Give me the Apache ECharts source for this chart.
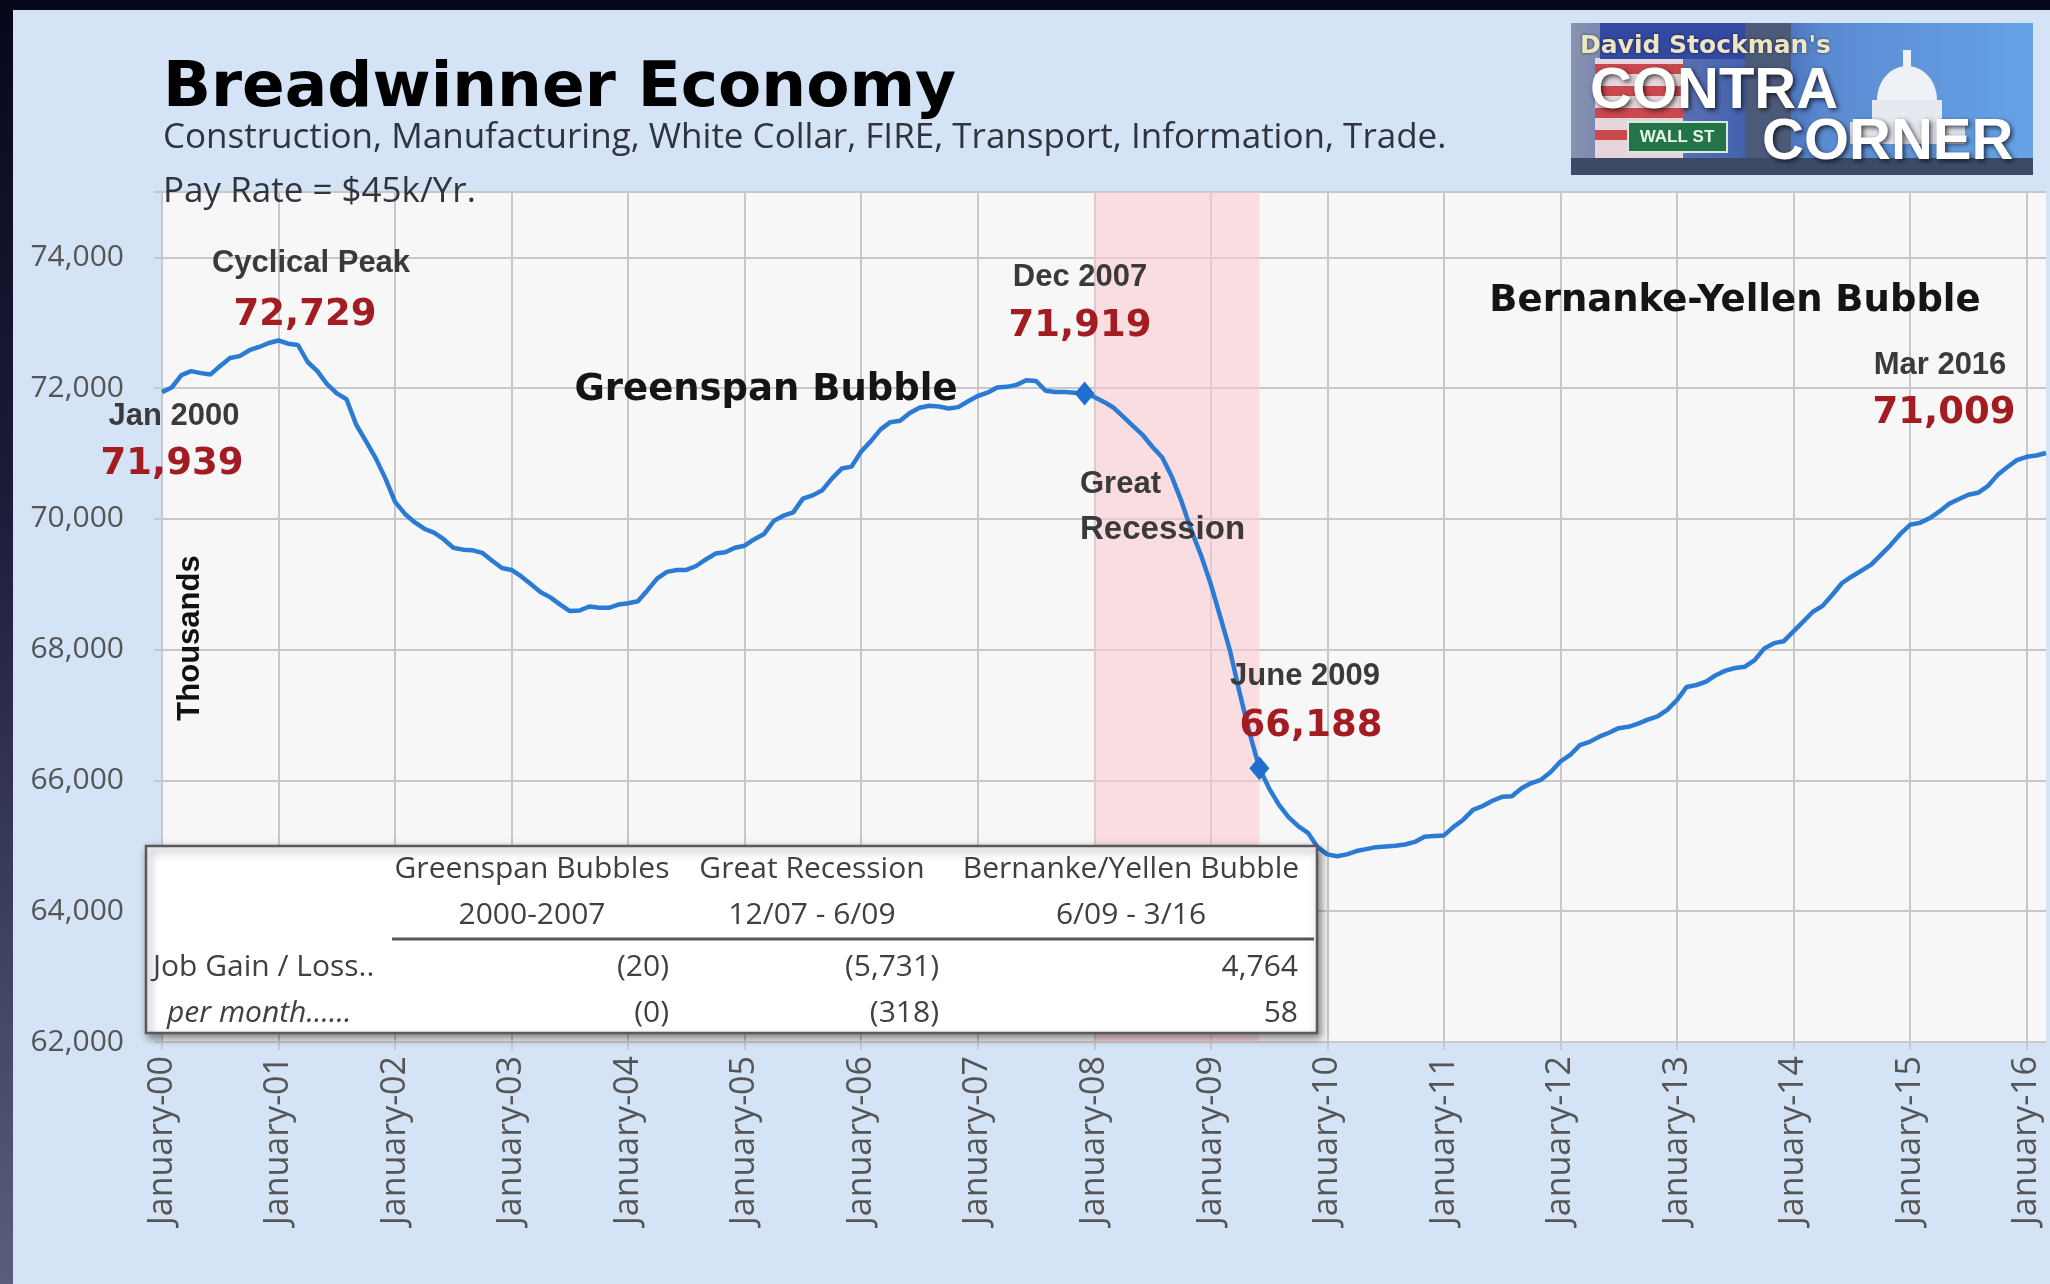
<!DOCTYPE html>
<html>
<head>
<meta charset="utf-8">
<title>Breadwinner Economy</title>
<script src="https://cdn.jsdelivr.net/npm/echarts@6.0.0/dist/echarts.min.js"></script>
<style>
  html, body { margin: 0; padding: 0; }
  body { width: 2050px; height: 1284px; overflow: hidden; }
  #chart { width: 2050px; height: 1284px; }
</style>
</head>
<body>
<div id="chart"></div>
<script>
// breadwinner jobs, thousands, monthly Jan 2000 .. Mar 2016
const years = ['00','01','02','03','04','05','06','07','08','09','10','11','12','13','14','15','16'];
const monthNames = ['January','February','March','April','May','June','July','August','September','October','November','December'];

const jobs2000 = [71939, 72010, 72200, 72260, 72230, 72210, 72340, 72460, 72490, 72580, 72630, 72690];
const jobs2001 = [72729, 72680, 72660, 72400, 72260, 72060, 71920, 71830, 71440, 71190, 70930, 70620];
const jobs2002 = [70260, 70080, 69950, 69850, 69790, 69690, 69560, 69530, 69520, 69480, 69360, 69250];
const jobs2003 = [69220, 69120, 69000, 68880, 68800, 68690, 68590, 68600, 68660, 68640, 68640, 68690];
const jobs2004 = [68710, 68740, 68910, 69090, 69190, 69220, 69220, 69280, 69380, 69470, 69490, 69560];
const jobs2005 = [69590, 69690, 69770, 69970, 70050, 70100, 70310, 70360, 70440, 70620, 70770, 70800];
const jobs2006 = [71030, 71190, 71370, 71480, 71500, 71620, 71700, 71730, 71720, 71690, 71710, 71800];
const jobs2007 = [71880, 71930, 72010, 72020, 72050, 72120, 72110, 71960, 71940, 71940, 71930, 71919];
const jobs2008 = [71865, 71790, 71700, 71560, 71420, 71280, 71100, 70940, 70640, 70260, 69820, 69440];
const jobs2009 = [69000, 68490, 67970, 67320, 66720, 66188, 65880, 65630, 65440, 65300, 65200, 64980];
const jobs2010 = [64870, 64840, 64870, 64920, 64950, 64980, 64990, 65000, 65020, 65060, 65140, 65150];
const jobs2011 = [65160, 65290, 65400, 65550, 65610, 65690, 65750, 65760, 65880, 65960, 66010, 66130];
const jobs2012 = [66290, 66390, 66540, 66590, 66670, 66730, 66800, 66820, 66870, 66930, 66980, 67080];
const jobs2013 = [67230, 67430, 67460, 67510, 67610, 67680, 67720, 67740, 67840, 68020, 68100, 68130];
const jobs2014 = [68280, 68430, 68580, 68670, 68840, 69020, 69120, 69210, 69300, 69450, 69600, 69770];
const jobs2015 = [69910, 69940, 70010, 70110, 70230, 70300, 70370, 70400, 70500, 70670, 70790, 70900];
const jobs2016 = [70950, 70970, 71009];

const yMin = 62000, yMax = 75000, yStep = 2000;

// recession band and the two marked months
const recessionStart = 'January-08';
const recessionEnd = 'June-09';
const markedMonths = ['December-07', 'June-09'];

// summary table
const tableGroups = ['Greenspan Bubbles', 'Great Recession', 'Bernanke/Yellen Bubble'];
const tablePeriods = ['2000-2007', '12/07 - 6/09', '6/09 - 3/16'];
const jobGainLoss = ['(20)', '(5,731)', '4,764'];
const perMonthChange = ['(0)', '(318)', '58'];

const jobs = [].concat(jobs2000, jobs2001, jobs2002, jobs2003, jobs2004, jobs2005, jobs2006, jobs2007,
  jobs2008, jobs2009, jobs2010, jobs2011, jobs2012, jobs2013, jobs2014, jobs2015, jobs2016);
const categories = [];
years.forEach(yy => monthNames.forEach(m => categories.push(m + '-' + yy)));
categories.length = jobs.length;

const fmt = v => v.toLocaleString('en-US');
const valueAt = name => jobs[categories.indexOf(name)];

const chart = echarts.init(document.getElementById('chart'));

const GRAY = '#3a3a3a', RED = '#a31c22';
const noteFont = { fontFamily: 'Liberation Sans', fontWeight: 'bold', fontSize: 31, fill: GRAY };
const numFont = { fontFamily: 'DejaVu Sans', fontWeight: 'bold', fontSize: 37, fill: RED };
const bubbleFont = { fontFamily: 'DejaVu Sans', fontWeight: 'bold', fontSize: 37, fill: '#151515' };
const tblFont = { fontFamily: 'Open Sans', fontSize: 30, fill: '#404040' };

function txt(x, y, text, st, align) {
  return { type: 'text', x: x, y: y, z: 100,
    style: Object.assign({ text: text, align: align || 'center', verticalAlign: 'middle' }, st) };
}

const graphics = [
  // dark frame
  { type: 'rect', shape: { x: 0, y: 0, width: 13, height: 1284 }, z: 100,
    style: { fill: new echarts.graphic.LinearGradient(0, 0, 0, 1, [
      { offset: 0, color: '#07071b' }, { offset: 0.4, color: '#1d1d3b' }, { offset: 1, color: '#5c5c7c' }]) } },
  { type: 'rect', shape: { x: 0, y: 0, width: 2050, height: 10 }, z: 100, style: { fill: '#08081c' } },

  // headings
  txt(163, 90, 'Breadwinner Economy', { fontFamily: 'DejaVu Sans', fontWeight: 'bold', fontSize: 63, fill: '#000' }, 'left'),
  txt(163, 138, 'Construction, Manufacturing, White Collar, FIRE, Transport, Information, Trade.',
    { fontFamily: 'Open Sans', fontSize: 35, fill: '#30343f' }, 'left'),
  txt(163, 192, 'Pay Rate = $45k/Yr.', { fontFamily: 'Open Sans', fontSize: 35, fill: '#30343f' }, 'left'),

  // logo
  { type: 'group', z: 100, children: [
    { type: 'rect', shape: { x: 1571, y: 23, width: 462, height: 152 },
      style: { fill: new echarts.graphic.LinearGradient(0, 0, 1, 0, [
        { offset: 0, color: '#8a93ae' }, { offset: 0.12, color: '#6d7db6' }, { offset: 0.4, color: '#3f5fae' },
        { offset: 0.55, color: '#5b8bd2' }, { offset: 1, color: '#66a3e6' }]) } },
    { type: 'rect', shape: { x: 1595, y: 58, width: 88, height: 100 }, style: { fill: '#e6d6dc' } },
    { type: 'rect', shape: { x: 1595, y: 64, width: 88, height: 10 }, style: { fill: '#c8484c' } },
    { type: 'rect', shape: { x: 1595, y: 86, width: 88, height: 10 }, style: { fill: '#c8484c' } },
    { type: 'rect', shape: { x: 1595, y: 108, width: 88, height: 10 }, style: { fill: '#c8484c' } },
    { type: 'rect', shape: { x: 1595, y: 130, width: 88, height: 10 }, style: { fill: '#c8484c' } },
    { type: 'rect', shape: { x: 1600, y: 23, width: 170, height: 36 }, style: { fill: '#3348a0' } },
    { type: 'rect', shape: { x: 1745, y: 23, width: 46, height: 152 }, style: { fill: '#4c5a7a' } },
    { type: 'ellipse', shape: { cx: 1907, cy: 100, rx: 30, ry: 34 }, style: { fill: '#eef1f6' } },
    { type: 'rect', shape: { x: 1903, y: 50, width: 8, height: 26 }, style: { fill: '#eef1f6' } },
    { type: 'rect', shape: { x: 1872, y: 100, width: 70, height: 26 }, style: { fill: '#e6eaf0' } },
    { type: 'rect', shape: { x: 1850, y: 122, width: 115, height: 22 }, style: { fill: '#dfe4ec' } },
    { type: 'rect', shape: { x: 1571, y: 158, width: 462, height: 17 }, style: { fill: '#3d4a66' } },
    { type: 'rect', shape: { x: 1628, y: 122, width: 99, height: 30 }, style: { fill: '#24744a', stroke: '#d8eadf', lineWidth: 2 } },
    { type: 'text', x: 1677, y: 137, style: { text: 'WALL ST', align: 'center', verticalAlign: 'middle',
      fontFamily: 'Liberation Sans', fontWeight: 'bold', fontSize: 17, fill: '#e8f4ea' } },
    { type: 'text', x: 1580, y: 46, style: { text: "David Stockman's", align: 'left', verticalAlign: 'middle',
      fontFamily: 'DejaVu Sans', fontWeight: 'bold', fontSize: 25, fill: '#ece6c4',
      textShadowColor: 'rgba(0,0,0,0.6)', textShadowBlur: 3 } },
    { type: 'text', x: 1590, y: 92, style: { text: 'CONTRA', align: 'left', verticalAlign: 'middle',
      fontFamily: 'Liberation Sans', fontWeight: 'bold', fontSize: 58, fill: '#ffffff',
      textShadowColor: 'rgba(0,0,0,0.7)', textShadowBlur: 5, textShadowOffsetX: 2, textShadowOffsetY: 2 } },
    { type: 'text', x: 1762, y: 143, style: { text: 'CORNER', align: 'left', verticalAlign: 'middle',
      fontFamily: 'Liberation Sans', fontWeight: 'bold', fontSize: 58, fill: '#ffffff',
      textShadowColor: 'rgba(0,0,0,0.7)', textShadowBlur: 5, textShadowOffsetX: 2, textShadowOffsetY: 2 } }
  ] },

  // annotations
  txt(311, 263, 'Cyclical Peak', noteFont),
  txt(305, 315, fmt(valueAt('January-01')), numFont),
  txt(174, 416, 'Jan 2000', noteFont),
  txt(172, 464, fmt(valueAt('January-00')), numFont),
  txt(766, 390, 'Greenspan Bubble', bubbleFont),
  txt(1735, 301, 'Bernanke-Yellen Bubble', bubbleFont),
  txt(1080, 277, 'Dec 2007', noteFont),
  txt(1080, 326, fmt(valueAt('December-07')), numFont),
  txt(1080, 484, 'Great', noteFont, 'left'),
  txt(1080, 530, 'Recession', Object.assign({}, noteFont, { fontSize: 33 }), 'left'),
  txt(1305, 676, 'June 2009', noteFont),
  txt(1311, 726, fmt(valueAt('June-09')), numFont),
  txt(1940, 365, 'Mar 2016', noteFont),
  txt(1944, 413, fmt(jobs[jobs.length - 1]), numFont),
  { type: 'text', x: 190, y: 638, rotation: Math.PI / 2, z: 100,
    style: { text: 'Thousands', align: 'center', verticalAlign: 'middle',
      fontFamily: 'Liberation Sans', fontWeight: 'bold', fontSize: 31, fill: '#111' } },

  // table
  { type: 'rect', z: 100, shape: { x: 146, y: 846, width: 1171, height: 187 },
    style: { fill: '#ffffff', stroke: '#5a5a5a', lineWidth: 2.5,
      shadowBlur: 8, shadowColor: 'rgba(0,0,0,0.45)', shadowOffsetX: 3, shadowOffsetY: 4 } },
  { type: 'line', z: 101, shape: { x1: 392, y1: 939, x2: 1314, y2: 939 }, style: { stroke: '#555', lineWidth: 3 } },
  txt(153, 967, 'Job Gain / Loss..', tblFont, 'left'),
  txt(167, 1013, 'per month......', Object.assign({}, tblFont, { fontStyle: 'italic' }), 'left')
];

const colCenters = [532, 812, 1131];
const colRights = [669, 939, 1298];
tableGroups.forEach((t, i) => graphics.push(txt(colCenters[i], 869, t, tblFont)));
tablePeriods.forEach((t, i) => graphics.push(txt(colCenters[i], 915, t, tblFont)));
jobGainLoss.forEach((t, i) => graphics.push(txt(colRights[i], 967, t, tblFont, 'right')));
perMonthChange.forEach((t, i) => graphics.push(txt(colRights[i], 1013, t, tblFont, 'right')));

const gridLine = { color: '#c8c8c8', width: 2 };

chart.setOption({
  backgroundColor: '#d4e3f5',
  animation: false,
  grid: { left: 162, right: 4, top: 192, bottom: 242, show: true, backgroundColor: '#f7f7f7', borderWidth: 0 },
  xAxis: {
    type: 'category',
    data: categories,
    boundaryGap: false,
    axisLine: { show: false },
    axisTick: { show: true, interval: 11, length: 8, lineStyle: gridLine },
    axisLabel: { interval: 11, rotate: 90, margin: 14, color: '#555', fontFamily: 'Open Sans', fontSize: 34 },
    splitLine: { show: true, interval: 11, lineStyle: gridLine }
  },
  yAxis: {
    type: 'value',
    min: yMin, max: yMax, interval: yStep,
    axisLine: { show: false },
    axisTick: { show: true, length: 8, lineStyle: gridLine },
    axisLabel: { margin: 38, color: '#555', fontFamily: 'Open Sans', fontSize: 30,
      formatter: v => (v === yMax ? '' : fmt(v)) },
    splitLine: { show: true, lineStyle: gridLine }
  },
  series: [{
    type: 'line',
    data: jobs,
    showSymbol: false,
    lineStyle: { color: '#2b7bd4', width: 4.5 },
    markArea: {
      silent: true,
      itemStyle: { color: 'rgba(252,200,206,0.55)' },
      data: [[{ xAxis: recessionStart }, { xAxis: recessionEnd }]]
    },
    markPoint: {
      silent: true,
      symbol: 'diamond',
      symbolSize: [20, 24],
      itemStyle: { color: '#1f6fd0' },
      label: { show: false },
      data: markedMonths.map(n => ({ coord: [n, valueAt(n)] }))
    }
  }],
  graphic: graphics
});
</script>
</body>
</html>
